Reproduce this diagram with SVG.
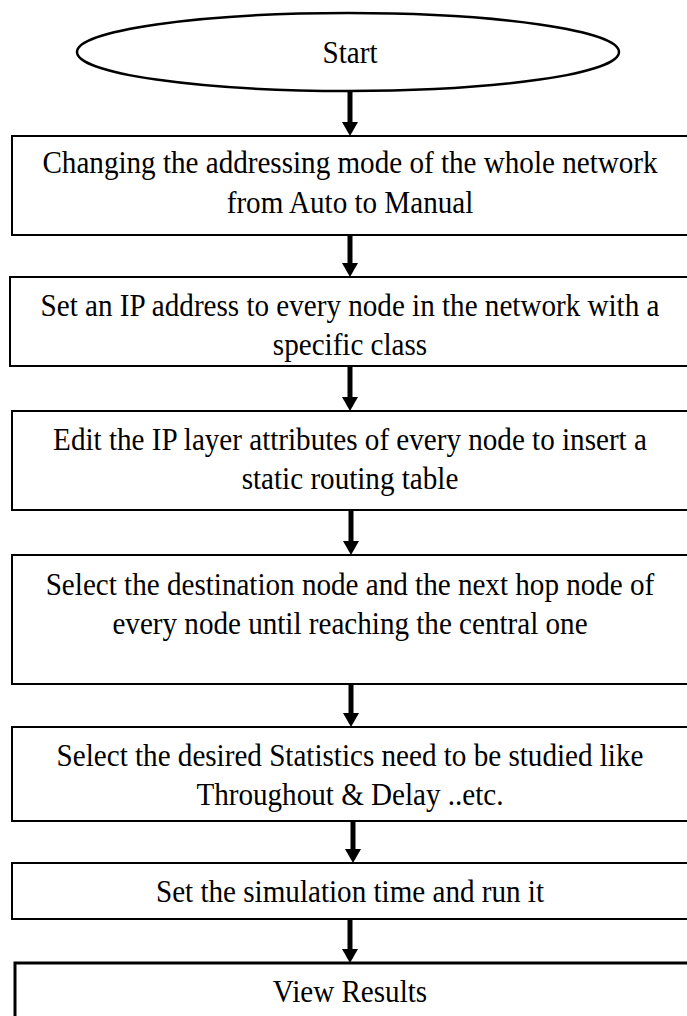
<svg xmlns="http://www.w3.org/2000/svg" width="687" height="1016" viewBox="0 0 687 1016">
<defs>
<style>
.box{fill:#fff;stroke:#000;stroke-width:2}
.term{fill:#fff;stroke:#000;stroke-width:2.5}
.lbl{font-family:"Liberation Serif","Times New Roman",serif;font-size:32px;fill:#000;text-anchor:middle}
.shaft{stroke:#000;stroke-width:5;fill:none}
.head{fill:#000}
</style>
</defs>
<rect width="687" height="1016" fill="#fff"/>
<g id="connectors">
<path d="M350,91 V122" class="shaft"/><path d="M342,122 H358 L350,136 Z" class="head"/>
<path d="M350,235 V263" class="shaft"/><path d="M342,263 H358 L350,277 Z" class="head"/>
<path d="M350,366 V397" class="shaft"/><path d="M342,397 H358 L350,411 Z" class="head"/>
<path d="M351,510 V541" class="shaft"/><path d="M343,541 H359 L351,555 Z" class="head"/>
<path d="M351,684 V713" class="shaft"/><path d="M343,713 H359 L351,727 Z" class="head"/>
<path d="M353,821 V849" class="shaft"/><path d="M345,849 H361 L353,863 Z" class="head"/>
<path d="M350,919 V949" class="shaft"/><path d="M342,949 H358 L350,963 Z" class="head"/>
</g>
<g id="start">
<ellipse cx="348" cy="52" rx="271" ry="39" class="term"/>
<g transform="translate(350,0) scale(0.91,1)"><text x="0" y="63" class="lbl">Start</text></g>
</g>
<g id="n1">
<rect x="12" y="136" width="690" height="99" class="box"/>
<g transform="translate(350,0) scale(0.91,1)"><text x="0" y="173" class="lbl">Changing the addressing mode of the whole network</text><text x="0" y="213" class="lbl">from Auto to Manual</text></g>
</g>
<g id="n2">
<rect x="10" y="277" width="690" height="89" class="box"/>
<g transform="translate(350,0) scale(0.91,1)"><text x="0" y="316" class="lbl">Set an IP address to every node in the network with a</text><text x="0" y="355" class="lbl">specific class</text></g>
</g>
<g id="n3">
<rect x="12" y="411" width="690" height="99" class="box"/>
<g transform="translate(350,0) scale(0.91,1)"><text x="0" y="450" class="lbl">Edit the IP layer attributes of every node to insert a</text><text x="0" y="489" class="lbl">static routing table</text></g>
</g>
<g id="n4">
<rect x="12" y="555" width="690" height="129" class="box"/>
<g transform="translate(350,0) scale(0.91,1)"><text x="0" y="595" class="lbl">Select the destination node and the next hop node of</text><text x="0" y="634" class="lbl">every node until reaching the central one</text></g>
</g>
<g id="n5">
<rect x="12" y="727" width="690" height="94" class="box"/>
<g transform="translate(350,0) scale(0.91,1)"><text x="0" y="766" class="lbl">Select the desired Statistics need to be studied like</text><text x="0" y="805" class="lbl">Throughout &amp; Delay ..etc.</text></g>
</g>
<g id="n6">
<rect x="12" y="863" width="690" height="56" class="box"/>
<g transform="translate(350,0) scale(0.91,1)"><text x="0" y="902" class="lbl">Set the simulation time and run it</text></g>
</g>
<g id="n7">
<rect x="15" y="963" width="690" height="70" class="box" style="stroke-width:3"/>
<g transform="translate(350,0) scale(0.91,1)"><text x="0" y="1002" class="lbl">View Results</text></g>
</g>
</svg>
